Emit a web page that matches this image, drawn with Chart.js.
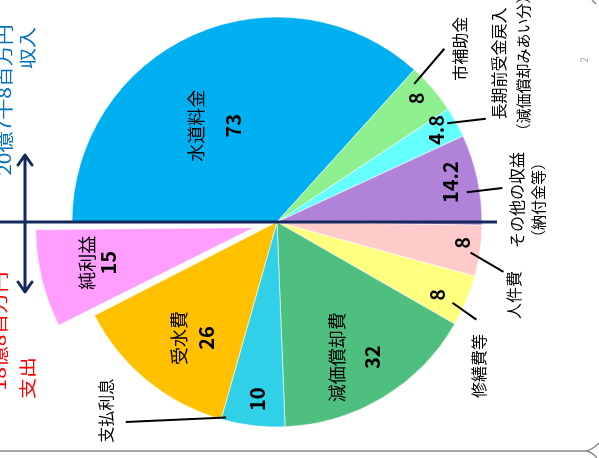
<!DOCTYPE html>
<html lang="ja">
<head>
<meta charset="utf-8">
<title>収入・支出の内訳</title>
<script src="https://cdn.jsdelivr.net/npm/chart.js@4/dist/chart.umd.min.js"></script>
<style>
  html, body { margin: 0; padding: 0; background: #fff; }
  #contenedor { position: relative; width: 599px; height: 458px; overflow: hidden; }
</style>
</head>
<body>
<div id="contenedor"><canvas id="graficoBalance" width="599" height="458"></canvas></div>
<script>
// Datos: la mitad superior es el ingreso, la inferior el gasto (en %)
const categorias = ['水道料金', '市補助金', '長期前受金戻入', 'その他の収益', '人件費', '修繕費等', '減価償却費', '支払利息', '受水費', '純利益'];
const notas = ['', '', '（減価償却みあい分）', '（納付金等）', '', '', '', '', '', ''];
const valores = [73, 8, 4.8, 14.2, 8, 8, 32, 10, 26, 15];
const tituloIngreso = ['20億7千8百万円', '収入'];
const tituloGasto = ['18億8百万円', '支出'];
const numeroPagina = '2';

const colores = ['#00b0f0', '#8ff08f', '#66ffff', '#b083d9', '#ffcaca', '#ffff80', '#4fbf80', '#30d0e8', '#ffc000', '#ff9eff'];
// separación real en píxeles (Chart.js v4 divide el offset entre 4 al dibujar)
const desplazamientos = [0, 0, 0, 0, 0, 0, 0, 0, 0, 24];

const FUENTE = "'Noto Sans CJK JP', 'Noto Sans', sans-serif";
const AZUL_OSCURO = '#14295c';

// etiquetas dentro del sector: r = fracción del radio, da = giro respecto al ángulo medio
const interiores = [
  { i: 0, nombre: true, r: 0.56, da: -9, gap: 37 },
  { i: 1, r: 0.91, da: -0.8 },
  { i: 2, r: 0.90, da: -0.8 },
  { i: 3, r: 0.87, da: -1 },
  { i: 4, r: 0.91, da: -1.7 },
  { i: 5, r: 0.86, da: 1.8 },
  { i: 6, nombre: true, r: 0.76, da: 1.4, gap: 35 },
  { i: 7, r: 0.87, da: -0.4 },
  { i: 8, nombre: true, r: 0.70, da: -3.3, gap: 27 },
  { i: 9, nombre: true, r: 0.78, da: 0.9, gap: 22 }
];

// etiquetas fuera del círculo con línea guía (coordenadas polares: [fracción del radio, grados])
const exteriores = [
  { i: 1, desde: [0.95, 314.8], hasta: [1.175, 314.0], texto: [1.23, 316.6] },
  { i: 2, desde: [0.96, 329.9], hasta: [1.136, 333.7], texto: [1.38, 325.9], gap: 25 },
  { i: 3, desde: [0.937, 351.1], hasta: [1.112, 351.4], texto: [1.228, 355.0], gap: 22 },
  { i: 4, desde: [0.956, 9.0], hasta: [1.131, 12.4], texto: [1.209, 17.1] },
  { i: 5, desde: [0.942, 24.7], hasta: [1.083, 26.1], texto: [1.209, 35.5] },
  { i: 7, desde: [0.985, 104.6], hasta: [1.223, 127.1], texto: [1.243, 132.2] }
];

function polar(cx, cy, radio, frac, grados) {
  const a = grados * Math.PI / 180;
  return { x: cx + radio * frac * Math.cos(a), y: cy + radio * frac * Math.sin(a) };
}

// texto girado 90° a la izquierda; cada línea se apila hacia la derecha
function textoGirado(ctx, lineas, x, y, gap, escala = 1) {
  ctx.save();
  ctx.translate(x, y);
  ctx.rotate(-Math.PI / 2);
  ctx.scale(1, escala);
  ctx.textAlign = 'center';
  ctx.textBaseline = 'middle';
  lineas.forEach((linea, k) => {
    ctx.font = linea.font;
    ctx.fillStyle = linea.color || '#000';
    ctx.fillText(linea.t, 0, (k - (lineas.length - 1) / 2) * (gap || 0) / escala);
  });
  ctx.restore();
}

const etiquetasPlugin = {
  id: 'etiquetasBalance',
  afterDatasetsDraw(chart) {
    const ctx = chart.ctx;
    const arcos = chart.getDatasetMeta(0).data;
    const cx = arcos[0].x;
    const cy = arcos[0].y;
    const R = arcos[0].outerRadius;

    // línea horizontal que separa ingreso y gasto
    ctx.save();
    ctx.strokeStyle = AZUL_OSCURO;
    ctx.lineWidth = 3;
    ctx.beginPath();
    ctx.moveTo(0, cy);
    ctx.lineTo(cx + R * 1.073, cy);
    ctx.stroke();
    ctx.restore();

    interiores.forEach((cfg) => {
      const arco = arcos[cfg.i];
      const medio = (arco.startAngle + arco.endAngle) / 2;
      const off = desplazamientos[cfg.i];
      const p = polar(cx, cy, R, cfg.r, medio * 180 / Math.PI + cfg.da);
      p.x += off * Math.cos(medio);
      p.y += off * Math.sin(medio);
      const lineas = [];
      if (cfg.nombre) lineas.push({ t: categorias[cfg.i], font: `18px ${FUENTE}` });
      lineas.push({ t: String(valores[cfg.i]), font: `bold 20px ${FUENTE}` });
      textoGirado(ctx, lineas, p.x, p.y, cfg.gap);
    });

    ctx.save();
    ctx.strokeStyle = '#000';
    ctx.lineWidth = 2;
    exteriores.forEach((cfg) => {
      const a = polar(cx, cy, R, cfg.desde[0], cfg.desde[1]);
      const b = polar(cx, cy, R, cfg.hasta[0], cfg.hasta[1]);
      ctx.beginPath();
      ctx.moveTo(a.x, a.y);
      ctx.lineTo(b.x, b.y);
      ctx.stroke();
      const t = polar(cx, cy, R, cfg.texto[0], cfg.texto[1]);
      const lineas = [{ t: categorias[cfg.i], font: `16px ${FUENTE}` }];
      if (notas[cfg.i]) lineas.push({ t: notas[cfg.i], font: `15px ${FUENTE}` });
      textoGirado(ctx, lineas, t.x, t.y, cfg.gap);
    });
    ctx.restore();
  }
};

const decoracionPlugin = {
  id: 'decoracionDiapositiva',
  afterDraw(chart) {
    const ctx = chart.ctx;

    // flecha doble vertical
    const ax = 25, arriba = 155, abajo = 292;
    ctx.save();
    ctx.strokeStyle = AZUL_OSCURO;
    ctx.lineWidth = 3;
    ctx.lineCap = 'round';
    ctx.lineJoin = 'round';
    ctx.beginPath();
    ctx.moveTo(ax, arriba + 1);
    ctx.lineTo(ax, abajo - 1);
    ctx.moveTo(ax - 7, arriba + 10);
    ctx.lineTo(ax, arriba);
    ctx.lineTo(ax + 7, arriba + 10);
    ctx.moveTo(ax - 7, abajo - 10);
    ctx.lineTo(ax, abajo);
    ctx.lineTo(ax + 7, abajo - 10);
    ctx.stroke();
    ctx.restore();

    // títulos de ingreso y gasto
    textoGirado(ctx, [{ t: tituloIngreso[0], font: `21px ${FUENTE}`, color: '#0070c0' }], 5, 100, 0, 0.8);
    textoGirado(ctx, [{ t: tituloIngreso[1], font: `21px ${FUENTE}`, color: '#0070c0' }], 28, 48, 0, 0.8);
    textoGirado(ctx, [{ t: tituloGasto[0], font: `21px ${FUENTE}`, color: '#ff0000' }], 0, 331, 0, 0.8);
    textoGirado(ctx, [{ t: tituloGasto[1], font: `21px ${FUENTE}`, color: '#ff0000' }], 28, 378, 0, 0.8);

    // número de página y borde de la diapositiva
    textoGirado(ctx, [{ t: numeroPagina, font: `10px ${FUENTE}`, color: '#aaa' }], 584, 60, 0);

    ctx.save();
    ctx.strokeStyle = '#8a8a8a';
    ctx.lineWidth = 1.5;
    ctx.beginPath();
    ctx.moveTo(0, 451);
    ctx.lineTo(586, 451);
    ctx.quadraticCurveTo(592, 450, 599, 443);
    ctx.moveTo(586, 451);
    ctx.quadraticCurveTo(592, 452, 597, 458);
    ctx.moveTo(592, 0);
    ctx.lineTo(596, 4);
    ctx.stroke();
    ctx.restore();
  }
};

new Chart(document.getElementById('graficoBalance'), {
  type: 'pie',
  data: {
    labels: categorias,
    datasets: [{
      data: valores,
      backgroundColor: colores,
      borderColor: 'rgba(255,255,255,0.55)',
      borderWidth: 1,
      offset: desplazamientos.map((d) => d * 4),
      hoverOffset: 0,
      radius: 205
    }]
  },
  options: {
    responsive: false,
    animation: false,
    events: [],
    rotation: 270,
    layout: { padding: { left: 0, right: 45, top: 0, bottom: 14 } },
    plugins: {
      legend: { display: false },
      tooltip: { enabled: false }
    }
  },
  plugins: [etiquetasPlugin, decoracionPlugin]
});
</script>
</body>
</html>
